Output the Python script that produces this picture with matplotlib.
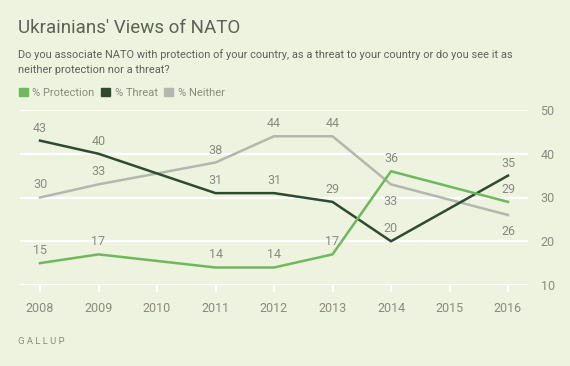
import matplotlib
matplotlib.use("Agg")
import matplotlib.pyplot as plt
from matplotlib.patches import Patch

plt.rcParams.update({
    "font.family": ["Roboto", "DejaVu Sans"],
    "font.size": 9,
})

# ---- data ----
years = [2008, 2009, 2011, 2012, 2013, 2014, 2016]
protection = [15, 17, 14, 14, 17, 36, 29]
threat = [43, 40, 31, 31, 29, 20, 35]
neither = [30, 33, 38, 44, 44, 33, 26]
year_ticks = list(range(2008, 2017))
y_ticks = [10, 20, 30, 40, 50]

BG = "#EDF3DF"
C_PROT = "#6DB95B"
C_THREAT = "#2C4B2F"
C_NEITHER = "#B4B7AE"
C_TEXT = "#8A8A84"
C_TITLE = "#5C6159"

W, H = 570, 366
fig = plt.figure(figsize=(W / 100, H / 100), dpi=100, facecolor=BG)

# axes frame in pixel terms
left, right, top, bottom = 20, 528, 110, 285
ax = fig.add_axes([left / W, 1 - bottom / H, (right - left) / W, (bottom - top) / H])
ax.set_facecolor(BG)
step = 58.5
ax.set_xlim(2008 - (40 - left) / step, 2016 + (right - 508) / step)
ax.set_ylim(10, 50)

for y in y_ticks:
    ax.axhline(y, color="white", lw=1.6, zorder=1)

ax.plot(years, neither, color=C_NEITHER, lw=1.8, zorder=3)
ax.plot(years, threat, color=C_THREAT, lw=1.8, zorder=4)
ax.plot(years, protection, color=C_PROT, lw=1.8, zorder=5)

# data labels: above unless listed as below
below = {("n", 2014), ("n", 2016)}
for key, vals in [("p", protection), ("t", threat), ("n", neither)]:
    for x, v in zip(years, vals):
        off = -12 if (key, x) in below else 9
        ax.annotate(str(v), (x, v), xytext=(0, off), textcoords="offset points",
                    ha="center", va="center", fontsize=9, color=C_TEXT, zorder=6)

for s in ax.spines.values():
    s.set_visible(False)
ax.set_xticks(year_ticks)
ax.set_xticklabels([str(y) for y in year_ticks])
ax.tick_params(axis="x", length=5, width=1.4, color="white", labelcolor=C_TEXT,
               labelsize=9, pad=7)
ax.yaxis.tick_right()
ax.set_yticks(y_ticks)
ax.tick_params(axis="y", length=0, labelcolor=C_TEXT, labelsize=9, pad=9)

# ---- text ----
fig.text(18 / W, 1 - 28 / H, "Ukrainians' Views of NATO", fontsize=13.5,
         color=C_TITLE, va="center", ha="left")
fig.text(18 / W, 1 - 62 / H,
         "Do you associate NATO with protection of your country, as a threat to your country or do you see it as\n"
         "neither protection nor a threat?",
         fontsize=7.9, color="#5E625B", va="center", ha="left", linespacing=1.55)

handles = [Patch(color=C_PROT, label="% Protection"),
           Patch(color=C_THREAT, label="% Threat"),
           Patch(color=C_NEITHER, label="% Neither")]
fig.legend(handles=handles, loc="center left", bbox_to_anchor=(9 / W, 1 - 93 / H),
           ncol=3, frameon=False, fontsize=8, labelcolor=C_TEXT,
           handlelength=0.8, handleheight=0.8, handletextpad=0.4, columnspacing=0.6)

fig.text(18 / W, 1 - 342 / H, "G A L L U P", fontsize=6.8, color=C_TEXT,
         va="center", ha="left")

fig.savefig("out.png", dpi=100, facecolor=BG)
